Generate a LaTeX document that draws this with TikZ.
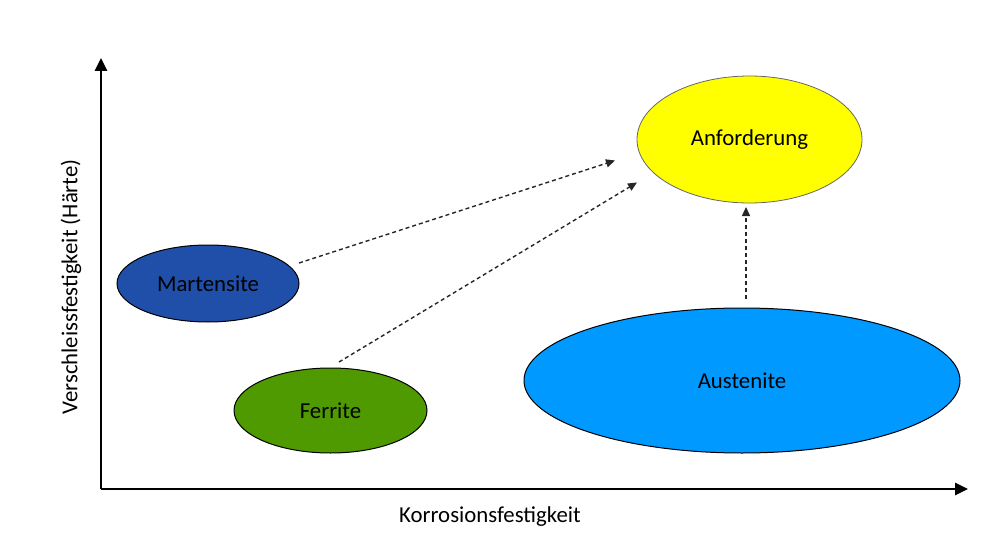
\documentclass[tikz,border=0pt]{standalone}
\usepackage{fontspec}
\setmainfont{Carlito}
\usetikzlibrary{shapes.geometric,arrows.meta}
\definecolor{martblue}{HTML}{1F4FA8}
\definecolor{ferrgreen}{HTML}{4F9A00}
\definecolor{austblue}{HTML}{0099FF}
\definecolor{anfyellow}{HTML}{FFFF00}
\tikzset{
  phase/.style={ellipse, draw=black, line width=1pt, inner sep=0pt, font=\fontsize{22.8}{26}\selectfont},
  axis/.style={line width=2.8pt, -{Triangle[length=13pt,width=12pt]}},
  link/.style={line width=1.4pt, dash pattern=on 4pt off 3pt, -{Triangle[length=9pt,width=8pt]}, black!85},
  axlabel/.style={font=\fontsize{22.8}{26}\selectfont}
}
\begin{document}
\begin{tikzpicture}[x=1pt,y=-1pt]
\useasboundingbox (0,0) rectangle (1000,540);
% axes
\coordinate (O) at (101,489);
\coordinate (ytip) at (101,58);
\coordinate (xtip) at (968,489);
\draw[axis] (O) -- (ytip);
\draw[axis] (O) -- (xtip);
\node[axlabel] (xlab) at (490,517) {Korrosionsfestigkeit};
\node[axlabel, rotate=90] (ylab) at (71,287) {Verschleissfestigkeit (Härte)};
% phases
\node[phase, fill=anfyellow, draw=black!60, line width=0.8pt, minimum width=225pt, minimum height=127pt] (anf) at (749.5,139.5) {Anforderung};
\node[phase, fill=martblue, minimum width=182pt, minimum height=77pt] (mart) at (208,283.5) {Martensite};
\node[phase, fill=ferrgreen, minimum width=193pt, minimum height=85pt] (ferr) at (330.5,410.5) {Ferrite};
\node[phase, fill=austblue, minimum width=436pt, minimum height=145pt] (aust) at (742,380.5) {Austenite};
% connectors
\coordinate (m1) at (299,263);
\coordinate (a1) at (615,160.5);
\coordinate (f1) at (339,362);
\coordinate (a2) at (637,182.5);
\coordinate (s1) at (746,299);
\coordinate (a3) at (746,207);
\draw[link] (m1) -- (a1);
\draw[link] (f1) -- (a2);
\draw[link] (s1) -- (a3);
\end{tikzpicture}
\end{document}
